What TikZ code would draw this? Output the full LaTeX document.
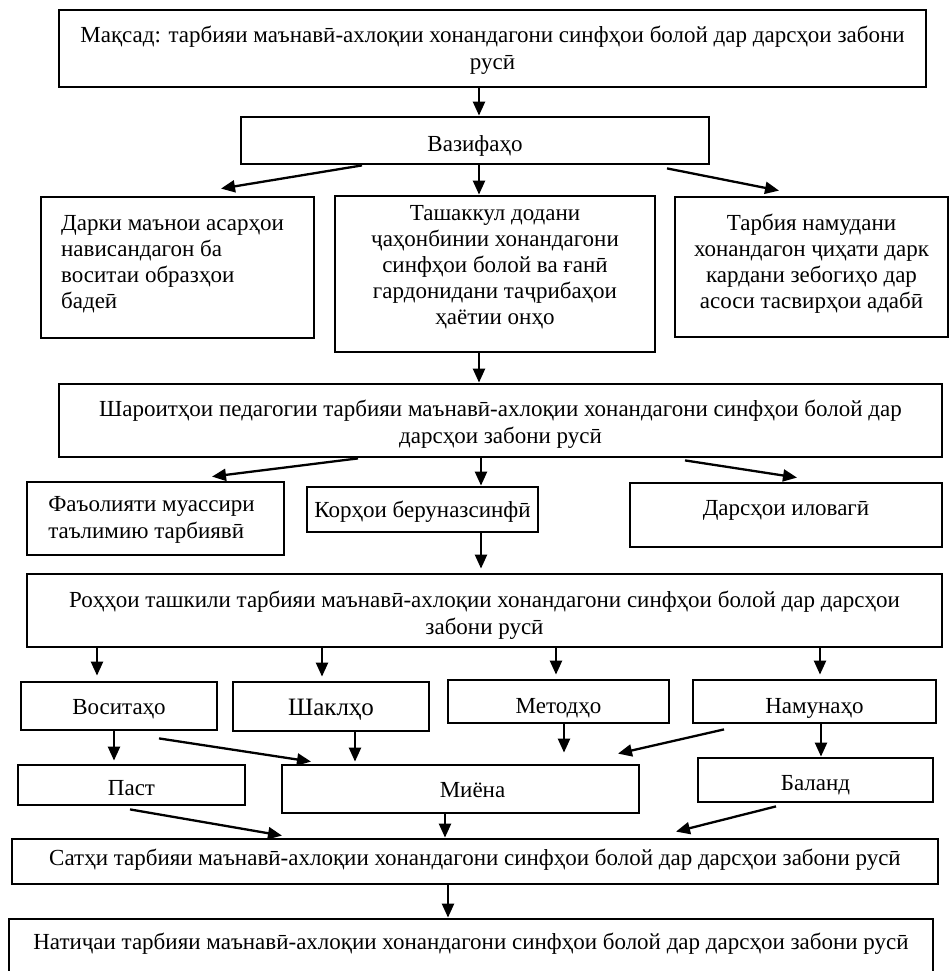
\documentclass[tikz,border=0pt]{standalone}
\usepackage{fontspec}
\setmainfont{Liberation Serif}
\usetikzlibrary{arrows.meta,calc}
\newcommand\Tc[2]{\raisebox{#1}[\height][\depth]{\begin{tabular}{@{}c@{}}#2\end{tabular}}}
\newcommand\Tl[3]{\raisebox{#1}[\height][\depth]{\begin{tabular}{@{}l@{\hspace{#2}}}#3\end{tabular}}}
\tikzset{
  box/.style={draw, line width=2.8pt, inner sep=0pt, align=center,
    font=\fontsize{23}{27.5}\selectfont},
  tight/.style={font=\fontsize{23}{26}\selectfont},
  arr/.style={line width=2.3pt, -{Triangle[length=14pt,width=12pt]}}
}
\begin{document}
\begin{tikzpicture}[x=1pt,y=-1pt]
\useasboundingbox (0,0) rectangle (950,971);
% boxes
\node[box, minimum width=867, minimum height=77] (goal) at (492.5,48.5)
  {\Tc{-2pt}{Мақсад: тарбияи маънавӣ-ахлоқии хонандагони синфҳои болой дар дарсҳои забони\\русӣ}};
\node[box, minimum width=468, minimum height=47] (tasks) at (475,140.5) {\Tc{-5pt}{Вазифаҳо}};
\node[box, tight, minimum width=273, minimum height=141] (t1) at (177.5,267.5)
  {\Tl{3pt}{10pt}{Дарки маънои асарҳои\\нависандагон ба\\воситаи образҳои\\бадеӣ}};
\node[box, tight, minimum width=320, minimum height=156] (t2) at (495,274)
  {\Tc{7pt}{Ташаккул додани\\ҷаҳонбинии хонандагони\\синфҳои болой ва ғанӣ\\гардонидани таҷрибаҳои\\ҳаётии онҳо}};
\node[box, tight, minimum width=273, minimum height=140] (t3) at (811.5,267)
  {\Tc{3pt}{Тарбия намудани\\хонандагон ҷиҳати дарк\\кардани зебогиҳо дар\\асоси тасвирҳои адабӣ}};
\node[box, minimum width=883, minimum height=73] (cond) at (500.5,420.5)
  {\Tc{-4pt}{Шароитҳои педагогии тарбияи маънавӣ-ахлоқии хонандагони синфҳои болой дар\\дарсҳои забони русӣ}};
\node[box, minimum width=257, minimum height=73] (c1) at (155.5,518.5)
  {\Tl{-1pt}{8pt}{Фаъолияти муассири\\таълимию тарбиявӣ}};
\node[box, minimum width=231, minimum height=45] (c2) at (422.5,509.5) {\Tc{-2pt}{Корҳои беруназсинфӣ}};
\node[box, minimum width=312, minimum height=64] (c3) at (786,515)
  {\Tc{5pt}{Дарсҳои иловагӣ}};
\node[box, minimum width=915, minimum height=73] (ways) at (484.5,610.5)
  {\Tc{-5pt}{Роҳҳои ташкили тарбияи маънавӣ-ахлоқии хонандагони синфҳои болой дар дарсҳои\\забони русӣ}};
\node[box, minimum width=196, minimum height=48] (m1) at (119,706) {\Tc{-3pt}{Воситаҳо}};
\node[box, minimum width=196, minimum height=49, font=\fontsize{25}{27.5}\selectfont] (m2) at (331,706.5) {\Tc{-3pt}{Шаклҳо}};
\node[box, minimum width=221, minimum height=43] (m3) at (558.5,701.5) {\Tc{-6pt}{Методҳо}};
\node[box, minimum width=243, minimum height=43] (m4) at (814.5,701.5) {\Tc{-6pt}{Намунаҳо}};
\node[box, minimum width=227, minimum height=40] (l1) at (131.5,785) {\Tc{-5pt}{Паст}};
\node[box, minimum width=357, minimum height=48] (l2) at (460.5,789) {\Tc{-3pt}{\hspace*{24pt}Миёна}};
\node[box, minimum width=235, minimum height=44] (l3) at (815.5,780) {\Tc{-5pt}{Баланд}};
\node[box, minimum width=926, minimum height=45] (level) at (475,861.5)
  {\Tc{1.5pt}{Сатҳи тарбияи маънавӣ-ахлоқии хонандагони синфҳои болой дар дарсҳои забони русӣ}};
\node[box, minimum width=924, minimum height=60] (result) at (471,949)
  {\Tc{5pt}{Натиҷаи тарбияи маънавӣ-ахлоқии хонандагони синфҳои болой дар дарсҳои забони русӣ}};
% connectors
\draw[arr] (goal.south -| 479,0) -- (tasks.north -| 479,0);
\draw[arr] (tasks.south -| 362,0) -- ($(t1.north -| 221,0)+(0,-7)$);
\draw[arr] (tasks.south -| 479,0) -- (t2.north -| 479,0);
\draw[arr] ($(tasks.south -| 667,0)+(0,3)$) -- ($(t3.north -| 779,0)+(0,-5)$);
\draw[arr] (t2.south -| 479,0) -- (cond.north -| 479,0);
\draw[arr] (cond.south -| 358,0) -- ($(c1.north -| 212,0)+(0,-4)$);
\draw[arr] (cond.south -| 481,0) -- (c2.north -| 481,0);
\draw[arr] ($(cond.south -| 685,0)+(0,2)$) -- ($(c3.north -| 797,0)+(0,-4)$);
\draw[arr] (c2.south -| 481,0) -- ($(ways.north -| 481,0)+(0,-4)$);
\draw[arr] (ways.south -| 97,0) -- ($(m1.north -| 97,0)+(0,-5)$);
\draw[arr] (ways.south -| 322,0) -- ($(m2.north -| 322,0)+(0,-4)$);
\draw[arr] (ways.south -| 556,0) -- ($(m3.north -| 556,0)+(0,-4)$);
\draw[arr] (ways.south -| 820,0) -- ($(m4.north -| 820,0)+(0,-4)$);
\draw[arr] (m1.south -| 114,0) -- ($(l1.north -| 114,0)+(0,-3)$);
\draw[arr] ($(m1.south -| 159,0)+(0,7)$) -- ($(l2.north -| 311,0)+(0,-2)$);
\draw[arr] (m2.south -| 355,0) -- ($(l2.north -| 355,0)+(0,-2)$);
\draw[arr] (m3.south -| 564,0) -- ($(l2.north -| 564,0)+(0,-11)$);
\draw[arr] ($(m4.south -| 724,0)+(0,5)$) -- ($(l2.north -| 618,0)+(0,-10)$);
\draw[arr] (m4.south -| 821,0) -- (l3.north -| 821,0);
\draw[arr] ($(l1.south -| 130,0)+(0,3)$) -- ($(level.north -| 282,0)+(0,-2)$);
\draw[arr] (l2.south -| 445,0) -- (level.north -| 445,0);
\draw[arr] ($(l3.south -| 776,0)+(0,3)$) -- ($(level.north -| 676,0)+(0,-6)$);
\draw[arr] (level.south -| 448,0) -- (result.north -| 448,0);
\end{tikzpicture}
\end{document}
